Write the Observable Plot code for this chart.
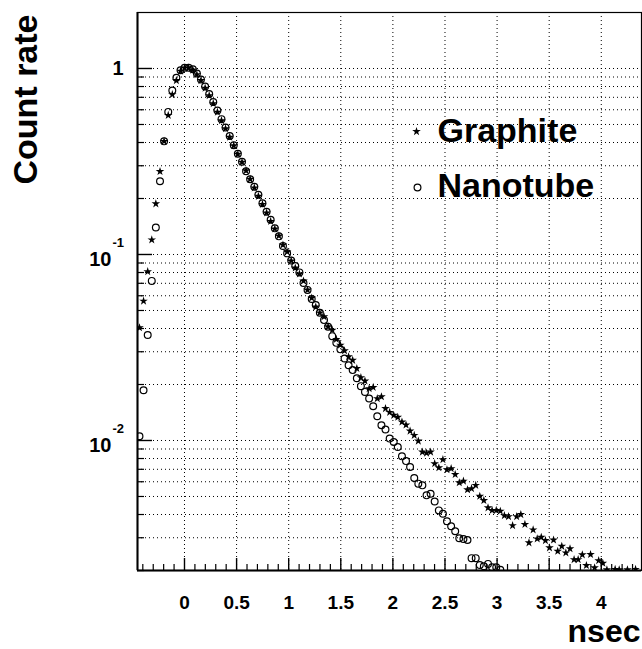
<!DOCTYPE html>
<html><head><meta charset="utf-8">
<script src="https://cdn.jsdelivr.net/npm/d3@7"></script>
<script src="https://cdn.jsdelivr.net/npm/@observablehq/plot@0.6"></script>
<style>html,body{margin:0;padding:0;background:#fff} svg{display:block}</style>
</head><body><div id="chart"></div>
<script>
// time (ns) of each channel
const time = [
-0.432,-0.393,-0.353,-0.314,-0.275,-0.235,-0.196,-0.156,-0.117,-0.078,
-0.038,0.001,0.040,0.080,0.119,0.158,0.198,0.237,0.276,0.316,
0.355,0.394,0.434,0.473,0.512,0.552,0.591,0.630,0.670,0.709,
0.748,0.788,0.827,0.867,0.906,0.945,0.985,1.024,1.063,1.103,
1.142,1.181,1.221,1.260,1.299,1.339,1.378,1.418,1.457,1.496,
1.536,1.575,1.614,1.654,1.693,1.732,1.772,1.811,1.850,1.890,
1.929,1.969,2.008,2.047,2.087,2.126,2.165,2.205,2.244,2.283,
2.323,2.362,2.401,2.441,2.480,2.519,2.559,2.598,2.637,2.677,
2.716,2.755,2.795,2.834,2.873,2.913,2.952,2.992,3.031,3.070,
3.110,3.149,3.188,3.228,3.267,3.306,3.346,3.385,3.424,3.464,
3.503,3.542,3.582,3.621,3.660,3.700,3.739,3.778,3.818,3.857,
3.897,3.936,3.975,4.015,4.054,4.093,4.133,4.172,4.211,4.251,
4.290,4.329,4.369];

const graphite = [
0.0404,0.0562,0.0809,0.1199,0.1874,0.2797,0.4057,0.5603,0.7245,0.8617,
0.969,1.006,1.006,0.9815,0.928,0.862,0.785,0.715,0.648,0.583,
0.5245,0.4749,0.4274,0.3847,0.3462,0.3134,0.2821,0.2539,0.2284,0.2056,
0.1862,0.1675,0.1508,0.1373,0.1259,0.1126,0.1033,0.0924,0.0847,0.0786,
0.0721,0.0645,0.0584,0.0522,0.0486,0.0463,0.0409,0.0392,0.0350,0.0326,
0.0304,0.0282,0.0270,0.0244,0.0218,0.0209,0.0190,0.0193,0.0168,0.0172,
0.01486,0.01418,0.01367,0.01334,0.01258,0.01212,0.01125,0.01066,0.00994,0.00867,
0.00856,0.00867,0.00751,0.00714,0.00789,0.00697,0.00706,0.00657,0.00593,0.00605,
0.00544,0.00551,0.00574,0.00502,0.00476,0.00435,0.00421,0.00421,0.00417,0.00395,
0.00390,0.00349,0.00390,0.00400,0.00354,0.00282,0.00331,0.00296,0.00302,0.00290,
0.00265,0.00292,0.00254,0.00270,0.00249,0.00262,0.00229,0.00229,0.00243,0.00213,
0.00244,0.00207,0.00226,0.00219,0.00202,null,0.00203,0.00202,null,0.00202,
null,0.00203,null];

const nanotube = [
0.01053,0.01864,0.0369,0.0721,0.1396,0.2476,0.4057,0.5843,0.7612,0.8911,
0.979,1.009,1.009,0.990,0.940,0.872,0.800,0.729,0.660,0.594,
0.534,0.481,0.433,0.387,0.348,0.3153,0.2803,0.2539,0.2313,0.2095,
0.1885,0.1696,0.1536,0.1382,0.1252,0.1112,0.1014,0.0929,0.0868,0.0801,
0.0703,0.0645,0.0576,0.0535,0.0486,0.0444,0.0409,0.0364,0.0335,0.0309,
0.0276,0.0254,0.0239,0.0216,0.0196,0.01825,0.01682,0.01529,0.01350,0.01208,
0.01145,0.01024,0.00981,0.00923,0.00822,0.00775,0.00720,0.00628,0.00586,0.00574,
0.00507,0.00517,0.00470,0.00421,0.00404,0.00368,0.00346,0.00325,0.00298,0.00295,
0.00292,0.00233,0.00233,0.00214,0.00211,0.00217,0.00208,0.00208,0.00202];

const seriesNames = ["Graphite", "Nanotube"];
const xDomain = [-0.451, 4.386];
const yDomain = [0.002, 2];
const xMajor = [0,0.5,1,1.5,2,2.5,3,3.5,4];
const xTickLabels = ["0","0.5","1","1.5","2","2.5","3","3.5","4"];
const xMinor = [-0.4,-0.3,-0.2,-0.1,0.1,0.2,0.3,0.4,0.6,0.7,0.8,0.9,1.1,1.2,1.3,1.4,
  1.6,1.7,1.8,1.9,2.1,2.2,2.3,2.4,2.6,2.7,2.8,2.9,3.1,3.2,3.3,3.4,3.6,3.7,3.8,3.9,4.1,4.2,4.3];
const yMajor = [1, 0.1, 0.01];
const yBase = ["1", "10", "10"];
const yExp = ["", "-1", "-2"];
const yMinor = [0.002,0.003,0.004,0.005,0.006,0.007,0.008,0.009,
  0.02,0.03,0.04,0.05,0.06,0.07,0.08,0.09,
  0.2,0.3,0.4,0.5,0.6,0.7,0.8,0.9];
const yGrid = yMinor.concat(yMajor);

const gData = time.map((t, i) => ({t, v: graphite[i]})).filter(d => d.v != null);
const nData = nanotube.map((v, i) => ({t: time[i], v}));

const W = 642, H = 649, mL = 137, mR = 1, mT = 12, mB = 79;
const innerW = W - mL - mR, innerH = H - mT - mB;
const font = "'Liberation Sans', Arial, Helvetica, sans-serif";
const dots = "1,3";
const bold = {fontWeight: "bold", fill: "black", fontFamily: font};

const chart = Plot.plot({
  width: W, height: H,
  marginLeft: mL, marginRight: mR, marginTop: mT, marginBottom: mB,
  style: {fontFamily: font, background: "#fff", color: "black"},
  x: {domain: xDomain, axis: null},
  y: {type: "log", domain: yDomain, axis: null},
  marks: [
    Plot.ruleX(xMajor, {x: d => d, stroke: "black", strokeWidth: 1, strokeDasharray: dots}),
    Plot.ruleY(yGrid, {y: d => d, stroke: "black", strokeWidth: 1, strokeDasharray: dots}),
    Plot.frame({stroke: "black", strokeWidth: 1.2}),
    Plot.ruleX([xDomain[0]], {x: d => d, stroke: "black", strokeWidth: 2}),
    Plot.ruleY([yDomain[0]], {y: d => d, stroke: "black", strokeWidth: 2}),
    Plot.tickX(xMajor, {x: d => d, insetTop: innerH - 12, stroke: "black", strokeWidth: 1.4}),
    Plot.tickX(xMinor, {x: d => d, insetTop: innerH - 6, stroke: "black", strokeWidth: 1.2}),
    Plot.tickY(yMajor, {y: d => d, insetRight: innerW - 15, stroke: "black", strokeWidth: 1.4}),
    Plot.tickY(yMinor, {y: d => d, insetRight: innerW - 7, stroke: "black", strokeWidth: 1.2}),
    Plot.dot(gData, {x: "t", y: "v", symbol: "star", r: 2.7, fill: "black", stroke: "none", clip: true}),
    Plot.dot(nData, {x: "t", y: "v", symbol: "circle", r: 3.4, fill: "none", stroke: "black", strokeWidth: 1.2, clip: true}),
    // x tick labels
    Plot.text(xMajor, {x: d => d, text: (d, i) => xTickLabels[i], frameAnchor: "bottom", lineAnchor: "middle",
      textAnchor: "middle", dy: 32, fontSize: 19, ...bold}),
    // y tick labels
    Plot.text(yMajor, {filter: (d, i) => yExp[i] === "", y: d => d, text: (d, i) => yBase[i], frameAnchor: "left",
      textAnchor: "end", lineAnchor: "middle", dx: -14, dy: 0, fontSize: 20, ...bold}),
    Plot.text(yMajor, {filter: (d, i) => yExp[i] !== "", y: d => d, text: (d, i) => yBase[i], frameAnchor: "left",
      textAnchor: "end", lineAnchor: "middle", dx: -26, dy: 5, fontSize: 20, ...bold}),
    Plot.text(yMajor, {filter: (d, i) => yExp[i] !== "", y: d => d, text: (d, i) => yExp[i], frameAnchor: "left",
      textAnchor: "start", lineAnchor: "middle", dx: -25, dy: -12, fontSize: 13, ...bold}),
    // axis titles
    Plot.text(["Count rate"], {text: d => d, frameAnchor: "top-left", textAnchor: "middle", lineAnchor: "middle",
      dx: 26 - mL, dy: 99 - mT, rotate: -90, fontSize: 34, ...bold}),
    Plot.text(["nsec"], {text: d => d, frameAnchor: "bottom-right", textAnchor: "end", lineAnchor: "middle",
      dx: -1, dy: 61.5, fontSize: 32, ...bold}),
    // legend
    Plot.dot([seriesNames[0]], {frameAnchor: "top-left", dx: 416 - mL, dy: 131 - mT, symbol: "star", r: 2.7, fill: "black", stroke: "none"}),
    Plot.dot([seriesNames[1]], {frameAnchor: "top-left", dx: 417 - mL, dy: 187 - mT, symbol: "circle", r: 3.4, fill: "none", stroke: "black", strokeWidth: 1.2}),
    Plot.text([seriesNames[0]], {text: d => d, frameAnchor: "top-left", textAnchor: "start", lineAnchor: "middle",
      dx: 437 - mL, dy: 131 - mT, fontSize: 34, ...bold}),
    Plot.text([seriesNames[1]], {text: d => d, frameAnchor: "top-left", textAnchor: "start", lineAnchor: "middle",
      dx: 437 - mL, dy: 186 - mT, fontSize: 34, ...bold})
  ]
});
document.getElementById("chart").appendChild(chart);
</script>
</body></html>
